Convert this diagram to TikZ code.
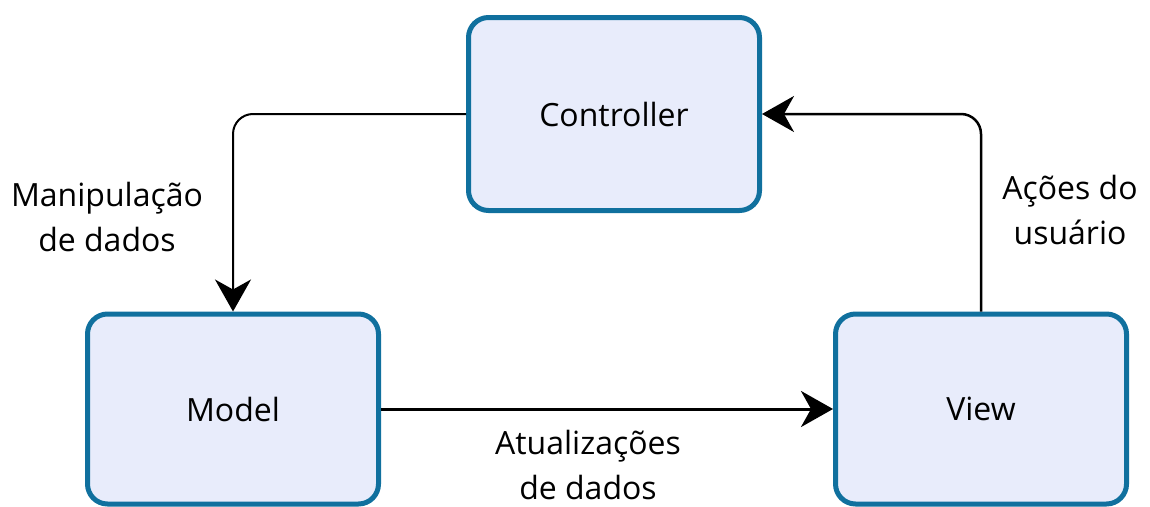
\documentclass[tikz,border=0pt]{standalone}
\usepackage{fontspec}
\setmainfont{Open Sans}
\usetikzlibrary{arrows.meta}
\definecolor{boxfill}{HTML}{E8ECFB}
\definecolor{boxline}{HTML}{10709E}
\tikzset{
  block/.style={draw=boxline, line width=5pt, fill=boxfill, rounded corners=20pt,
    minimum width=291pt, minimum height=191pt, inner sep=0pt,
    font=\fontsize{32}{38}\selectfont},
  conn/.style={line width=2pt, rounded corners=20pt,
    -{Stealth[length=32pt, width=36pt, inset=10pt]}},
  lbl/.style={align=center, font=\fontsize{32}{45}\selectfont, inner sep=0pt}
}
\begin{document}
\begin{tikzpicture}[x=1pt, y=-1pt]
\useasboundingbox (0,0) rectangle (1150,506);
\node[block, minimum height=193pt] (ctrl) at (614,114) {Controller};
\node[block, minimum height=190pt] (model) at (233,409) {Model};
\node[block, minimum height=190pt] (view) at (981,409) {View};
\draw[conn] (ctrl.west) -| (model.north);
\draw[conn, line width=3pt] (model.east) -- (view.west);
\draw[conn, line width=2.5pt] (view.north) |- (ctrl.east);
\node[lbl] (l1) at (107,217) {Manipulação\\de dados};
\node[lbl] (l2) at (1070,210) {Ações do\\usuário};
\node[lbl] (l3) at (588,465) {Atualizações\\de dados};
\end{tikzpicture}
\end{document}
